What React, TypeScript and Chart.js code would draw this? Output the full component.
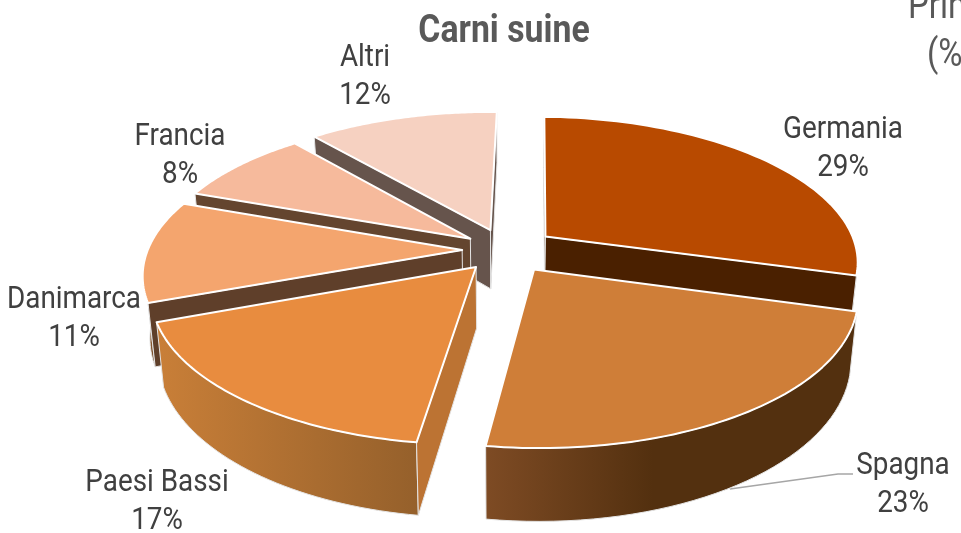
import React, { useEffect, useRef } from "react";
import { Chart, registerables } from "chart.js";

Chart.register(...registerables);

const categories = ["Germania", "Spagna", "Paesi Bassi", "Danimarca", "Francia", "Altri"];
const shares = [29, 23, 17, 11.2, 8.3, 11.5];
const explode = [16, 16, 15, 14, 14, 15];
const topColors = ["#B84A00", "#CF7E38", "#E88C3F", "#F4A56E", "#F6BA9C", "#F6D1C1"];
const wallFrom = ["#4A2000", "#7E4B24", "#C97F38", "#C97F38", "#64452F", "#66544C"];
const wallTo = ["#4A2000", "#53300F", "#95602B", "#5F3F2A", "#64452F", "#66544C"];
const faceColors = ["#4A2000", "#53300F", "#BC7333", "#5F3F2A", "#64452F", "#66544C"];
const labelCentres = [[843, 130], [903, 466], [157, 483], [74, 300], [180, 137], [365, 58]];
const leaderLine = [[730, 489], [838, 474], [853, 474]];
const chartTitle = "Carni suine";
const clippedTitle = ["Principali", "(%)"];

const FONT = '"Roboto", sans-serif';
const X0 = 506, Y0 = 250, A = 313, B = 143, SKEW_X = -5, SKEW_Y = 3, PERSP = 0.16, DEPTH = 60, SHRINK = 0.98;

function project(u: number, v: number, bottom: boolean) {
  const w = 1 - PERSP * v;
  const x = X0 + ((A * u + SKEW_X * v) / w) * (bottom ? SHRINK : 1);
  const y = Y0 + (B * v + SKEW_Y * u + (bottom ? DEPTH : 0)) / w;
  return [x, y];
}

function polygon(ctx: CanvasRenderingContext2D, pts: number[][]) {
  ctx.beginPath();
  pts.forEach((p, i) => (i ? ctx.lineTo(p[0], p[1]) : ctx.moveTo(p[0], p[1])));
  ctx.closePath();
}

function narrowText(ctx: CanvasRenderingContext2D, text: string, x: number, y: number, squeeze: number) {
  ctx.save();
  ctx.translate(x, y);
  ctx.scale(squeeze, 1);
  ctx.fillText(text, 0, 0);
  ctx.restore();
}

const pie3d = {
  id: "pie3d",
  beforeDatasetDraw(chart: any) {
    const ctx: CanvasRenderingContext2D = chart.ctx;
    const meta = chart.getDatasetMeta(0);
    ctx.save();
    ctx.strokeStyle = "#A6A6A6";
    ctx.lineWidth = 1.5;
    ctx.beginPath();
    leaderLine.forEach((p, k) => (k ? ctx.lineTo(p[0], p[1]) : ctx.moveTo(p[0], p[1])));
    ctx.stroke();
    const order = meta.data
      .map((el: any, i: number) => ({ el, i, mid: (el.startAngle + el.endAngle) / 2 }))
      .sort((a: any, b: any) => Math.sin(a.mid) - Math.sin(b.mid));
    ctx.lineJoin = "round";
    for (const { el, i, mid } of order) {
      const pull = el.options.offset / 100;
      const ox = Math.cos(mid) * pull, oy = Math.sin(mid) * pull;
      const at = (a: number, r: number, bottom: boolean) =>
        project(ox + Math.cos(a) * r, oy + Math.sin(a) * r, bottom);
      const s = el.startAngle, e = el.endAngle;
      // outer wall, only the part turned towards the viewer
      const a0 = Math.max(s, 0), a1 = Math.min(e, Math.PI);
      if (a1 > a0) {
        const n = 40, upper: number[][] = [], lower: number[][] = [];
        for (let k = 0; k <= n; k++) {
          const a = a0 + ((a1 - a0) * k) / n;
          upper.push(at(a, 1, false));
          lower.push(at(a, 1, true));
        }
        const xs = upper.concat(lower).map((p) => p[0]);
        const g = ctx.createLinearGradient(Math.min(...xs), 0, Math.max(...xs), 0);
        g.addColorStop(0, wallFrom[i]);
        g.addColorStop(i === 1 ? 0.45 : 1, wallTo[i]);
        g.addColorStop(1, wallTo[i]);
        polygon(ctx, upper.concat(lower.reverse()));
        ctx.fillStyle = g;
        ctx.fill();
        ctx.strokeStyle = "#E4E4E4";
        ctx.lineWidth = 1;
        ctx.stroke();
      }
      // radial cut faces: those turned towards the viewer, or side-on on the far side of the centre
      for (const [edge, normal] of [[s, s - Math.PI / 2], [e, e + Math.PI / 2]]) {
        const facing = Math.sin(normal);
        const sideOn = Math.abs(facing) <= 0.05 && Math.cos(normal) * ox < 0;
        if (facing > 0.05 || sideOn) {
          polygon(ctx, [at(edge, 1, false), at(edge, 0, false), at(edge, 0, true), at(edge, 1, true)]);
          ctx.fillStyle = faceColors[i];
          ctx.fill();
          ctx.strokeStyle = "#E4E4E4";
          ctx.lineWidth = 1;
          ctx.stroke();
        }
      }
      // top surface
      const rim: number[][] = [at(s, 0, false)];
      for (let k = 0; k <= 60; k++) rim.push(at(s + ((e - s) * k) / 60, 1, false));
      polygon(ctx, rim);
      ctx.fillStyle = topColors[i];
      ctx.fill();
      ctx.strokeStyle = "#FFFFFF";
      ctx.lineWidth = 2;
      ctx.stroke();
    }
    ctx.restore();
    return false;
  },
  afterDraw(chart: any) {
    const ctx: CanvasRenderingContext2D = chart.ctx;
    ctx.save();
    ctx.textAlign = "center";
    ctx.textBaseline = "middle";
    ctx.fillStyle = "#404040";
    ctx.font = `32px ${FONT}`;
    categories.forEach((name, i) => {
      const [x, y] = labelCentres[i];
      narrowText(ctx, name, x, y, 0.87);
      narrowText(ctx, `${Math.round(shares[i])}%`, x, y + 38, 0.87);
    });
    ctx.fillStyle = "#595959";
    ctx.font = `bold 38px ${FONT}`;
    narrowText(ctx, chartTitle, 504, 32, 0.89);
    ctx.font = `38px ${FONT}`;
    ctx.textAlign = "left";
    ctx.textBaseline = "alphabetic";
    narrowText(ctx, clippedTitle[0], 908, 18, 0.87);
    narrowText(ctx, clippedTitle[1], 927, 66, 0.87);
    ctx.restore();
  },
};

export default function App() {
  const ref = useRef<HTMLCanvasElement>(null);
  useEffect(() => {
    const chart = new Chart(ref.current!, {
      type: "pie",
      data: {
        labels: categories,
        datasets: [{ data: shares, backgroundColor: topColors, offset: explode, borderColor: "#FFFFFF" }],
      },
      options: {
        responsive: false,
        animation: false,
        plugins: { legend: { display: false }, tooltip: { enabled: false } },
      },
      plugins: [pie3d],
    } as any);
    return () => chart.destroy();
  }, []);
  return (
    <canvas
      ref={ref}
      width={961}
      height={533}
      style={{ position: "absolute", left: 0, top: 0, width: 961, height: 533 }}
    />
  );
}
